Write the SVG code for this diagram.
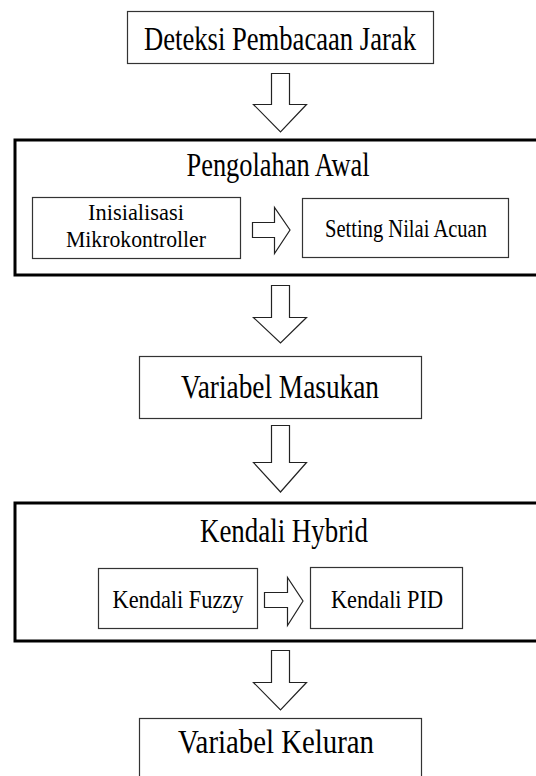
<svg xmlns="http://www.w3.org/2000/svg" width="536" height="776" viewBox="0 0 536 776">
<style>
  .box { fill: #ffffff; stroke: #333333; stroke-width: 1.2; }
  .group { fill: none; stroke: #000000; stroke-width: 3; }
  .arrow { fill: #ffffff; stroke: #222222; stroke-width: 1.2; stroke-linejoin: miter; }
  text { font-family: "Liberation Serif", "Times New Roman", serif; fill: #000000; text-anchor: middle; }
  .big { font-size: 34px; }
  .small { font-size: 25px; }
  .two { font-size: 24px; }
</style>
<rect x="0" y="0" width="536" height="776" fill="#ffffff"/>

<g id="pengolahan-awal">
  <rect class="group" x="15" y="140" width="525" height="135"/>
  <text class="big" x="278" y="176" textLength="183" lengthAdjust="spacingAndGlyphs">Pengolahan Awal</text>
</g>
<g id="kendali-hybrid">
  <rect class="group" x="15" y="503" width="525" height="138"/>
  <text class="big" x="284" y="542" textLength="168" lengthAdjust="spacingAndGlyphs">Kendali Hybrid</text>
</g>

<g id="deteksi">
  <rect class="box" x="127.5" y="11.5" width="306" height="52"/>
  <text class="big" x="280" y="50" textLength="272" lengthAdjust="spacingAndGlyphs">Deteksi Pembacaan Jarak</text>
</g>
<g id="inisialisasi">
  <rect class="box" x="32.5" y="197.5" width="208" height="61"/>
  <text class="two" x="136" y="220" textLength="96" lengthAdjust="spacingAndGlyphs">Inisialisasi</text>
  <text class="two" x="136" y="247" textLength="140" lengthAdjust="spacingAndGlyphs">Mikrokontroller</text>
</g>
<g id="setting">
  <rect class="box" x="302.5" y="198.5" width="206" height="59"/>
  <text class="small" x="406" y="237" textLength="162" lengthAdjust="spacingAndGlyphs">Setting Nilai Acuan</text>
</g>
<g id="variabel-masukan">
  <rect class="box" x="139.5" y="356.5" width="282" height="62"/>
  <text class="big" x="280" y="398" textLength="198" lengthAdjust="spacingAndGlyphs">Variabel Masukan</text>
</g>
<g id="kendali-fuzzy">
  <rect class="box" x="98.5" y="568.5" width="159" height="60"/>
  <text class="small" x="178" y="608" textLength="131" lengthAdjust="spacingAndGlyphs">Kendali Fuzzy</text>
</g>
<g id="kendali-pid">
  <rect class="box" x="310.5" y="567.5" width="152" height="61"/>
  <text class="small" x="387" y="608" textLength="112" lengthAdjust="spacingAndGlyphs">Kendali PID</text>
</g>
<g id="variabel-keluran">
  <rect class="box" x="139.5" y="718.5" width="282" height="70"/>
  <text class="big" x="276" y="753" textLength="196" lengthAdjust="spacingAndGlyphs">Variabel Keluran</text>
</g>

<g id="connectors">
  <path class="arrow" d="M271.5,73.5 H289.5 V104.5 H306.5 L280.5,132 L253.5,104.5 H271.5 Z"/>
  <path class="arrow" d="M271.5,285.5 H289.5 V317.5 H306.5 L280.5,343 L253.5,317.5 H271.5 Z"/>
  <path class="arrow" d="M271.5,425.5 H289.5 V462.5 H306.5 L280.5,492 L253.5,462.5 H271.5 Z"/>
  <path class="arrow" d="M271.5,650.5 H289.5 V682.5 H306.5 L280.5,710 L253.5,682.5 H271.5 Z"/>
  <path class="arrow" d="M252.5,222.5 H274.5 V207.5 L290,230 L274.5,253.5 V237.5 H252.5 Z"/>
  <path class="arrow" d="M264.5,592.5 H287.5 V577.5 L303,601 L287.5,625.5 V607.5 H264.5 Z"/>
</g>
</svg>
